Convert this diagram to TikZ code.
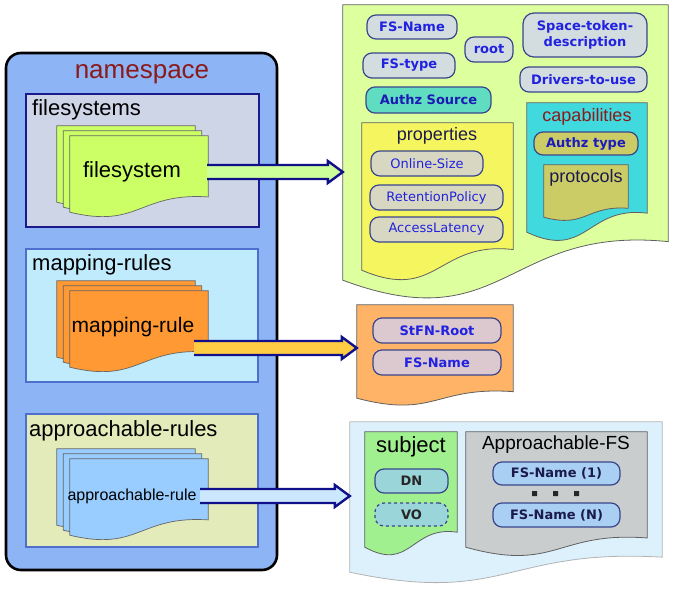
\documentclass[tikz,border=0pt]{standalone}
\usepackage{fontspec}
\setmainfont{Liberation Sans}
\newfontfamily\pillfont{DejaVu Sans}
\usetikzlibrary{calc,fit}
\definecolor{nsblue}{HTML}{8DB4F5}
\definecolor{fsgray}{HTML}{CDD5E6}
\definecolor{mrcyan}{HTML}{BFEBFC}
\definecolor{argreen}{HTML}{E3EBBA}
\definecolor{navy}{HTML}{1A1A8C}
\definecolor{secblue}{HTML}{4F6FCC}
\definecolor{pagegreen}{HTML}{CCFF66}
\definecolor{pageorange}{HTML}{FF9933}
\definecolor{pageblue}{HTML}{99CCFF}
\definecolor{darkred}{HTML}{8B1A1A}
\definecolor{docgreen}{HTML}{DDFF9E}
\definecolor{pillgray}{HTML}{D3DDE0}
\definecolor{pilltext}{HTML}{2121E0}
\definecolor{pillline}{HTML}{3A468C}
\definecolor{authzteal}{HTML}{60DCC0}
\definecolor{propyellow}{HTML}{F5F560}
\definecolor{proppill}{HTML}{D8D8C2}
\definecolor{capcyan}{HTML}{40D9DE}
\definecolor{olive}{HTML}{CCCC66}
\definecolor{docorange}{HTML}{FFB366}
\definecolor{stfnpink}{HTML}{DCC9D0}
\definecolor{doclight}{HTML}{DDF1FD}
\definecolor{subjgreen}{HTML}{A0F090}
\definecolor{dnteal}{HTML}{9AD5D9}
\definecolor{apgray}{HTML}{C9CDCD}
\definecolor{fsnblue}{HTML}{A9CFF2}
\definecolor{darknavy}{HTML}{1A1A4D}
\definecolor{arrowgreen}{HTML}{CCFF99}
\definecolor{arrowyellow}{HTML}{FFCC44}
\definecolor{arrowblue}{HTML}{CCE8FF}
\definecolor{arrowline}{HTML}{10108A}
\tikzset{
  area/.style={inner sep=0pt, draw=none},
  nsbox/.style={
    draw=black,
    line width=2.6pt,
    rounded corners=15pt,
    fill=nsblue,
    inner sep=0pt
  },
  secbox/.style={
    line width=1.3pt,
    inner sep=0pt
  },
  page/.style={draw=gray!80!black, line width=0.7pt},
  docline/.style={draw=gray!75!black, line width=0.8pt},
  headtext/.style={inner sep=0pt, font=\fontsize{22}{26}\selectfont},
  captext/.style={inner sep=0pt, font=\fontsize{18}{22}\selectfont},
  pill/.style={
    draw=pillline,
    line width=1.2pt,
    rounded corners=9pt,
    inner sep=0pt,
    minimum height=24pt,
    align=center,
    fill=pillgray,
    text=pilltext,
    font=\pillfont\bfseries\fontsize{13}{16}\selectfont
  },
  proppillbox/.style={
    pill,
    fill=proppill,
    font=\pillfont\fontsize{13}{16}\selectfont
  },
  fatline/.style={draw=arrowline, line width=2.4pt, line join=miter}
}
% document shape with a wavy bottom edge, drawn round a placed node
\newcommand\docshape[3][0.14]{%
  \path[#3] let \p1=(#2.north west), \p2=(#2.south east), \n1={\y1-\y2} in
    (\x1,\y1) -- (\x2,\y1) -- (\x2,{\y2+#1*\n1*1pt})
    .. controls ({(\x1+\x2)/2},{\y2+(#1+0.06)*\n1*1pt}) and ({(\x1+\x2)/2},{\y2-0.22*\n1*1pt}) .. (\x1,\y2) -- cycle;}
% broad outlined arrow from a tail point to the left edge of a target
\newcommand\fatarrow[3]{%
  \fill[#3] let \p1=(#1), \p2=(#2) in
    (\x1,{\y1+7pt}) -- ({\x2-15pt},{\y1+7pt}) -- ({\x2-15pt},{\y1+11pt}) -- (\x2,\y1)
    -- ({\x2-15pt},{\y1-11pt}) -- ({\x2-15pt},{\y1-7pt}) -- (\x1,{\y1-7pt}) -- cycle;
  \draw[fatline] let \p1=(#1), \p2=(#2) in
    (\x1,{\y1+7pt}) -- ({\x2-15pt},{\y1+7pt}) -- ({\x2-15pt},{\y1+11pt}) -- (\x2,\y1)
    -- ({\x2-15pt},{\y1-11pt}) -- ({\x2-15pt},{\y1-7pt}) -- (\x1,{\y1-7pt});}

\begin{document}
\begin{tikzpicture}[x=1pt,y=-1pt]
  \useasboundingbox (0,0) rectangle (673,589);

  % namespace
  \node[nsbox, fit={(6,53) (277,570)}] (ns) {};
  \node[inner sep=0pt, text=darkred, font=\fontsize{26}{30}\selectfont] (nstitle) at (142,74) {namespace};

  \node[secbox, draw=navy, fill=fsgray, fit={(26,94) (259,227)}] (fsbox) {};
  \node[headtext, anchor=west] (fstitle) at (32,110) {filesystems};
  \node[secbox, draw=secblue, fill=mrcyan, fit={(26,249) (258,382)}] (mrbox) {};
  \node[headtext, anchor=west] (mrtitle) at (32,265) {mapping-rules};
  \node[secbox, draw=secblue, fill=argreen, fit={(26,414) (258,547)}] (arbox) {};
  \node[headtext, anchor=west] (artitle) at (29,431) {approachable-rules};

  % page stacks
  \node[area, fit={(57,126) (195,202)}] (fsback) {};
  \node[area, fit={(63.5,131) (201.5,207)}] (fsmid) {};
  \node[area, fit={(70,136) (208,212)}] (fsfront) {};
  \docshape[0.2]{fsback}{page, fill=pagegreen}
  \docshape[0.2]{fsmid}{page, fill=pagegreen}
  \docshape[0.2]{fsfront}{page, fill=pagegreen}
  \node[headtext] (fs) at (132,172) {filesystem};

  \node[area, fit={(57,281) (195,357)}] (mrback) {};
  \node[area, fit={(63.5,286) (201.5,362)}] (mrmid) {};
  \node[area, fit={(70,291) (208,367)}] (mrfront) {};
  \docshape[0.2]{mrback}{page, fill=pageorange}
  \docshape[0.2]{mrmid}{page, fill=pageorange}
  \docshape[0.2]{mrfront}{page, fill=pageorange}
  \node[inner sep=0pt, font=\fontsize{21}{25}\selectfont] (mr) at (133,327) {mapping-rule};

  \node[area, fit={(57,449) (195,525)}] (arback) {};
  \node[area, fit={(63.5,454) (201.5,530)}] (armid) {};
  \node[area, fit={(70,459) (208,535)}] (arfront) {};
  \docshape[0.2]{arback}{page, fill=pageblue}
  \docshape[0.2]{armid}{page, fill=pageblue}
  \docshape[0.2]{arfront}{page, fill=pageblue}
  \node[inner sep=0pt, font=\fontsize{16}{19}\selectfont] (ar) at (132,496) {approachable-rule};

  % filesystem document
  \node[area, fit={(343,5) (668,280)}] (fsdoc) {};
  \docshape{fsdoc}{docline, fill=docgreen}
  \node[pill, minimum width=90pt] (fsname) at (412,27) {FS-Name};
  \node[pill, minimum width=48pt, minimum height=25pt] (root) at (489,49.5) {root};
  \node[pill, minimum width=124pt, minimum height=44pt, rounded corners=11pt] (spacetoken) at (585,35) {Space-token-\\description};
  \node[pill, minimum width=92pt, minimum height=25pt] (fstype) at (409,65.5) {FS-type};
  \node[pill, minimum width=127pt, minimum height=25pt] (drivers) at (583.5,79.5) {Drivers-to-use};
  \node[pill, minimum width=125pt, minimum height=26pt, fill=authzteal, text=pilltext!80!black] (authzsrc) at (428.5,100) {Authz Source};

  \node[area, fit={(362,123) (513,270)}] (props) {};
  \docshape{props}{docline, fill=propyellow}
  \node[captext, text=darknavy] (proptitle) at (437,136) {properties};
  \node[proppillbox, minimum width=112pt, minimum height=25pt] (online) at (427,163.5) {Online-Size};
  \node[proppillbox, minimum width=133pt, minimum height=25pt] (retention) at (436.5,197.5) {RetentionPolicy};
  \node[proppillbox, minimum width=133pt, minimum height=25pt] (latency) at (436.5,229.5) {AccessLatency};

  \node[area, fit={(527,103) (647,232)}] (caps) {};
  \docshape[0.147]{caps}{docline, fill=capcyan}
  \node[captext, text=darkred] (captitle) at (587,117) {capabilities};
  \node[pill, minimum width=104pt, minimum height=23pt, fill=olive, text=pilltext!85!black] (authztype) at (586,143.5) {Authz type};
  \node[area, fit={(544,165) (628,217)}] (protos) {};
  \docshape[0.17]{protos}{docline, fill=olive}
  \node[captext, text=darknavy] (prototitle) at (586,178) {protocols};

  % mapping-rule document
  \node[area, fit={(357,305) (513,398)}] (mapdoc) {};
  \docshape[0.07]{mapdoc}{docline, fill=docorange}
  \node[pill, minimum width=128pt, minimum height=25pt, fill=stfnpink] (stfnroot) at (437,330.5) {StFN-Root};
  \node[pill, minimum width=128pt, minimum height=25pt, fill=stfnpink] (mapfsname) at (437,362.5) {FS-Name};

  % approachable-rule document
  \node[area, fit={(350,422) (662,572)}] (apdoc) {};
  \docshape[0.1]{apdoc}{docline, draw=gray!60, fill=doclight}
  \node[area, fit={(365,432) (457,547)}] (subject) {};
  \docshape[0.13]{subject}{docline, fill=subjgreen}
  \node[headtext] (subjtitle) at (411,447) {subject};
  \node[pill, minimum width=73pt, fill=dnteal, text=black!85] (dn) at (411.5,481) {DN};
  \node[pill, minimum width=73pt, minimum height=23pt, fill=dnteal, text=black!85, dashed] (vo) at (411.5,514.5) {VO};
  \node[area, fit={(466,432) (647,547)}] (apfs) {};
  \docshape[0.08]{apfs}{docline, fill=apgray}
  \node[inner sep=0pt, font=\fontsize{19}{23}\selectfont] (apfstitle) at (556,445) {Approachable-FS};
  \node[pill, minimum width=127pt, minimum height=23pt, fill=fsnblue, text=darknavy] (fsnfirst) at (556.5,473.5) {FS-Name (1)};
  \node[pill, minimum width=127pt, fill=fsnblue, text=darknavy] (fsnlast) at (556.5,515) {FS-Name (N)};
  \fill[black!85] (532,491) rectangle (537,496) (553,491) rectangle (558,496) (574,491) rectangle (579,496);

  % connectors
  \coordinate (fsout) at (207,172);
  \coordinate (mrout) at (194,348);
  \coordinate (arout) at (200,496);
  \fatarrow{fsout}{fsdoc.west}{arrowgreen}
  \fatarrow{mrout}{mapdoc.west}{arrowyellow}
  \fatarrow{arout}{apdoc.west}{arrowblue}
\end{tikzpicture}
\end{document}
